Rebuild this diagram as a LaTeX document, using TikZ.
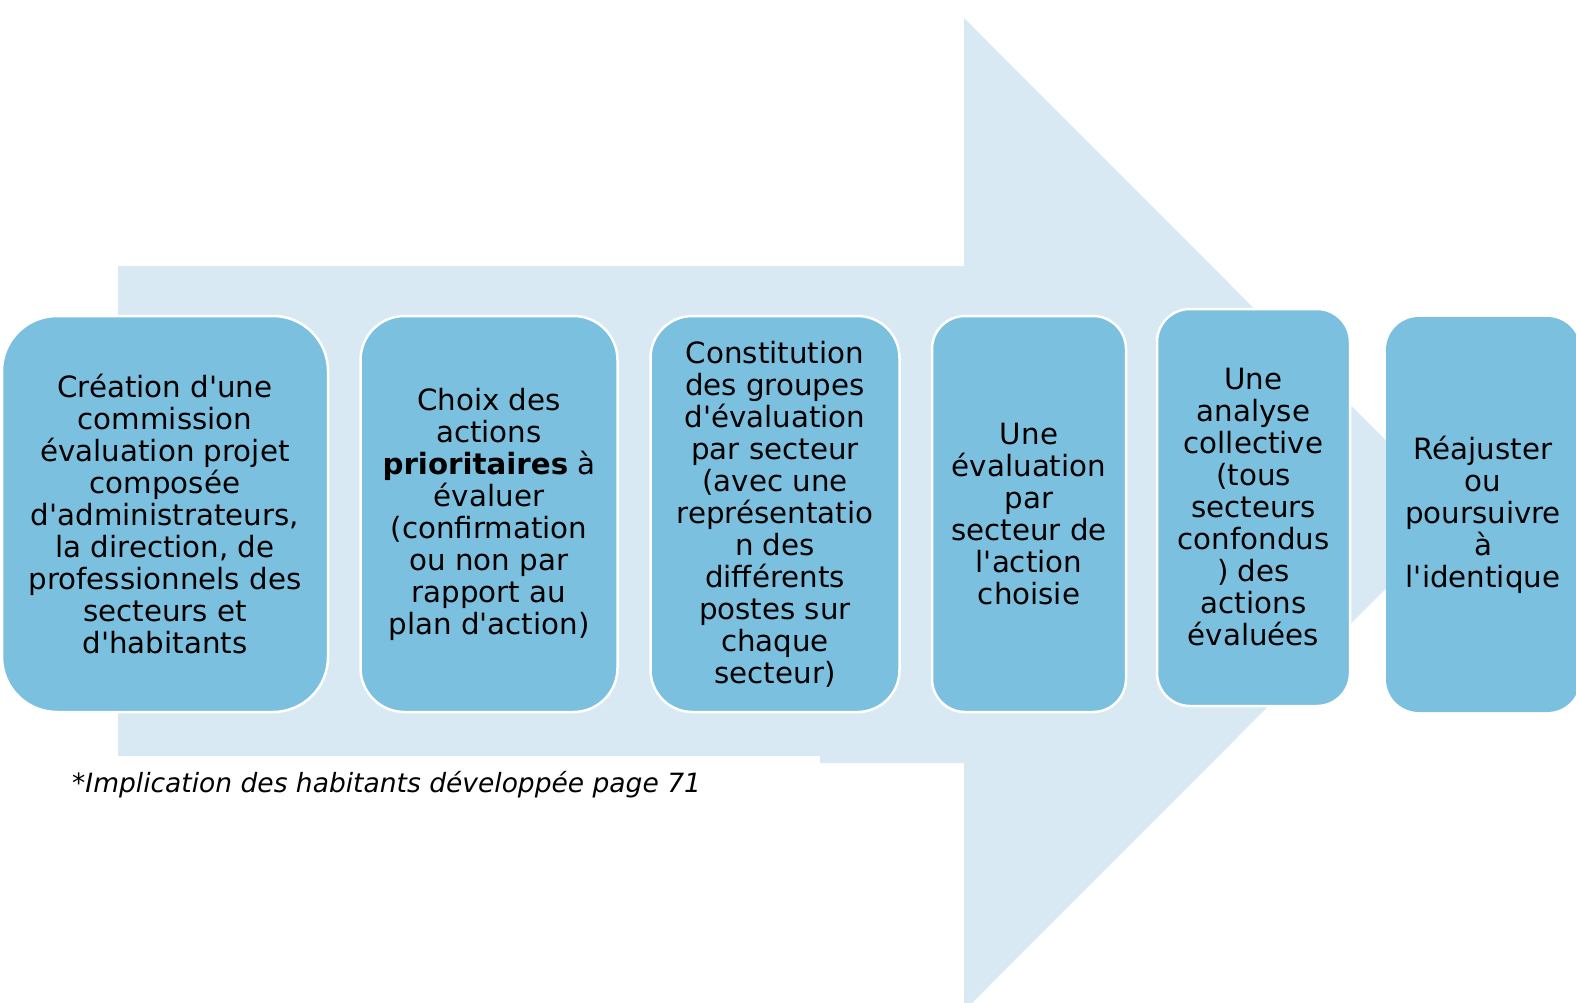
\documentclass[tikz,border=0pt]{standalone}
\usepackage{fontspec}
\newfontfamily\vfont{DejaVu Sans}
\definecolor{arrowbg}{RGB}{216,233,243}
\definecolor{boxfill}{RGB}{123,192,222}
\begin{document}
\begin{tikzpicture}[x=1pt,y=-1pt,
  stepbox/.style={fill=boxfill,draw=white,line width=2.5pt,inner sep=0pt,align=center,
    font=\vfont\fontsize{29.3}{32}\selectfont,text=black}]
\useasboundingbox (0,0) rectangle (1576,1003);
% big arrow
\fill[arrowbg] (118,266) -- (964,266) -- (964,18) -- (1460,514.5) -- (964,1011) -- (964,763) -- (118,763) -- cycle;
\fill[white] (60,756) rectangle (820,800);
% boxes
\node[stepbox,rounded corners=55pt,minimum width=326pt,minimum height=396pt] (b1) at (165,514)
 {Création d'une\\commission\\évaluation projet\\composée\\d'administrateurs,\\la direction, de\\professionnels des\\secteurs et\\d'habitants};
\node[stepbox,rounded corners=44pt,minimum width=257pt,minimum height=396pt] (b2) at (489,514)
 {Choix des\\actions\\\textbf{prioritaires} à\\évaluer\\(confirmation\\ou non par\\rapport au\\plan d'action)};
\node[stepbox,rounded corners=42pt,minimum width=249pt,minimum height=396pt] (b3) at (775,514)
 {Constitution\\des groupes\\d'évaluation\\par secteur\\(avec une\\représentatio\\n des\\différents\\postes sur\\chaque\\secteur)};
\node[stepbox,rounded corners=33pt,minimum width=194pt,minimum height=396pt] (b4) at (1029,514)
 {Une\\évaluation\\par\\secteur de\\l'action\\choisie};
\node[stepbox,rounded corners=33pt,minimum width=193pt,minimum height=397pt] (b5) at (1253.5,507.5)
 {Une\\analyse\\collective\\(tous\\secteurs\\confondus\\) des\\actions\\évaluées};
\node[stepbox,draw=none,rounded corners=33pt,minimum width=194pt,minimum height=395pt] (b6) at (1483,514.5)
 {Réajuster\\ou\\poursuivre\\à\\l'identique};
% footnote
\node[anchor=base west,inner sep=0pt,font=\vfont\itshape\fontsize{26.5}{30}\selectfont] (fn) at (72,792)
 {*Implication des habitants développée page 71};
\end{tikzpicture}
\end{document}
